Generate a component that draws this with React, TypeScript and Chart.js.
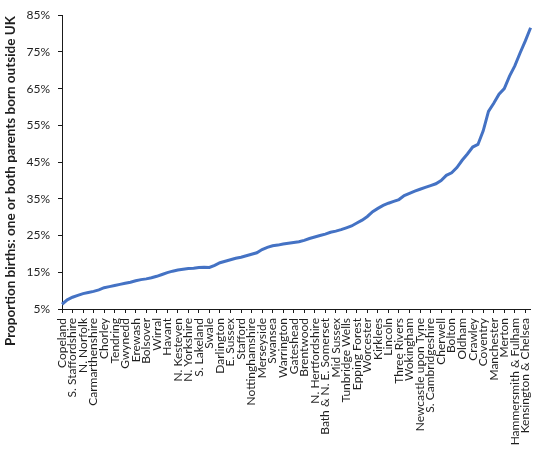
import React, { useEffect, useRef } from "react";
import { Chart, registerables } from "chart.js";

Chart.register(...registerables);

// Every other ranked authority is labelled on the axis (as in the source chart)
const labelledAuthorities: string[] = [
  "Copeland", "S. Staffordshire", "N. Norfolk", "Carmarthenshire", "Chorley",
  "Tendring", "Gwynedd", "Erewash", "Bolsover", "Wirral",
  "Havant", "N. Kesteven", "N. Yorkshire", "S. Lakeland", "Swale",
  "Darlington", "E. Sussex", "Stafford", "Nottinghamshire", "Merseyside",
  "Swansea", "Warrington", "Gateshead", "Brentwood", "N. Hertfordshire",
  "Bath & N. E. Somerset", "Mid Sussex", "Tunbridge Wells", "Epping Forest", "Worcester",
  "Kirklees", "Lincoln", "Three Rivers", "Wokingham", "Newcastle upon Tyne",
  "S. Cambridgeshire", "Cherwell", "Bolton", "Oldham", "Crawley",
  "Coventry", "Manchester", "Merton", "Hammersmith & Fulham", "Kensington & Chelsea",
];

// Proportion (%) of births with one or both parents born outside UK, ranked
const birthsShare: number[] = [
  6.3, 7.5, 8.2, 8.7, 9.2, 9.5, 9.8, 10.2, 10.8, 11.1,
  11.4, 11.7, 12.0, 12.3, 12.7, 13.0, 13.2, 13.5, 13.9, 14.4,
  14.9, 15.3, 15.6, 15.8, 16.0, 16.1, 16.3, 16.4, 16.3, 16.9,
  17.6, 18.0, 18.4, 18.8, 19.1, 19.5, 19.9, 20.3, 21.2, 21.8,
  22.2, 22.4, 22.7, 22.9, 23.1, 23.3, 23.7, 24.2, 24.6, 25.0,
  25.4, 25.9, 26.2, 26.6, 27.1, 27.6, 28.4, 29.2, 30.2, 31.5,
  32.4, 33.2, 33.8, 34.3, 34.8, 35.9, 36.5, 37.1, 37.6, 38.1,
  38.6, 39.1, 40.0, 41.4, 42.1, 43.5, 45.5, 47.2, 49.1, 49.8,
  53.5, 58.8, 61.0, 63.5, 65.0, 68.4, 71.2, 74.7, 78.0, 81.6,
];

const yTicks: number[] = [5, 15, 25, 35, 45, 55, 65, 75, 85];
const yTitle = "Proportion births: one or both parents born outside UK";

const categories: string[] = labelledAuthorities.flatMap((n) => [n, ""]);

const FONT = "Lato, 'Open Sans', sans-serif";
const TEXT = "#1f1f1f";
const AXIS = "#1a1a1a";

const yTitlePlugin = {
  id: "yTitlePlugin",
  afterDraw(chart: any) {
    const ctx = chart.ctx;
    ctx.save();
    ctx.translate(11, 181);
    ctx.rotate(-Math.PI / 2);
    ctx.font = `bold 13.5px ${FONT}`;
    ctx.fillStyle = TEXT;
    ctx.textAlign = "center";
    ctx.textBaseline = "middle";
    ctx.fillText(yTitle, 0, 0);
    ctx.restore();
  },
};

export default function App() {
  const ref = useRef<HTMLCanvasElement | null>(null);
  useEffect(() => {
    if (!ref.current) return;
    const chart = new Chart(ref.current, {
      type: "line",
      data: {
        labels: categories,
        datasets: [
          {
            data: birthsShare,
            borderColor: "#4472C4",
            borderWidth: 3,
            pointRadius: 0,
            tension: 0,
            fill: false,
          },
        ],
      },
      options: {
        animation: false,
        responsive: true,
        maintainAspectRatio: false,
        layout: { padding: { top: 11, right: 12, left: 0, bottom: 0 } },
        plugins: { legend: { display: false }, tooltip: { enabled: false } },
        scales: {
          x: {
            type: "category",
            offset: false,
            afterFit: (s: any) => {
              s.height = 148;
            },
            grid: {
              drawOnChartArea: false,
              drawTicks: true,
              tickLength: 4,
              color: (c: any) => (c.index % 2 === 0 ? AXIS : "rgba(0,0,0,0)"),
            },
            border: { display: true, color: AXIS, width: 1 },
            ticks: {
              autoSkip: false,
              minRotation: 90,
              maxRotation: 90,
              padding: 5,
              color: TEXT,
              font: { family: FONT, size: 12 },
              callback: (_v: any, i: number) => categories[i],
            },
          },
          y: {
            min: yTicks[0],
            max: yTicks[yTicks.length - 1],
            afterFit: (s: any) => {
              s.width = 62;
            },
            afterBuildTicks: (s: any) => {
              s.ticks = yTicks.map((v) => ({ value: v }));
            },
            grid: { drawOnChartArea: false, drawTicks: true, tickLength: 4, color: AXIS },
            border: { display: true, color: AXIS, width: 1 },
            ticks: {
              padding: 8,
              color: TEXT,
              font: { family: FONT, size: 12 },
              callback: (v: any) => `${v}%`,
            },
          },
        },
      },
      plugins: [yTitlePlugin],
    });
    return () => chart.destroy();
  }, []);
  return (
    <div style={{ position: "absolute", left: 0, top: 0, width: 550, height: 457, background: "#fff" }}>
      <canvas ref={ref} />
    </div>
  );
}
